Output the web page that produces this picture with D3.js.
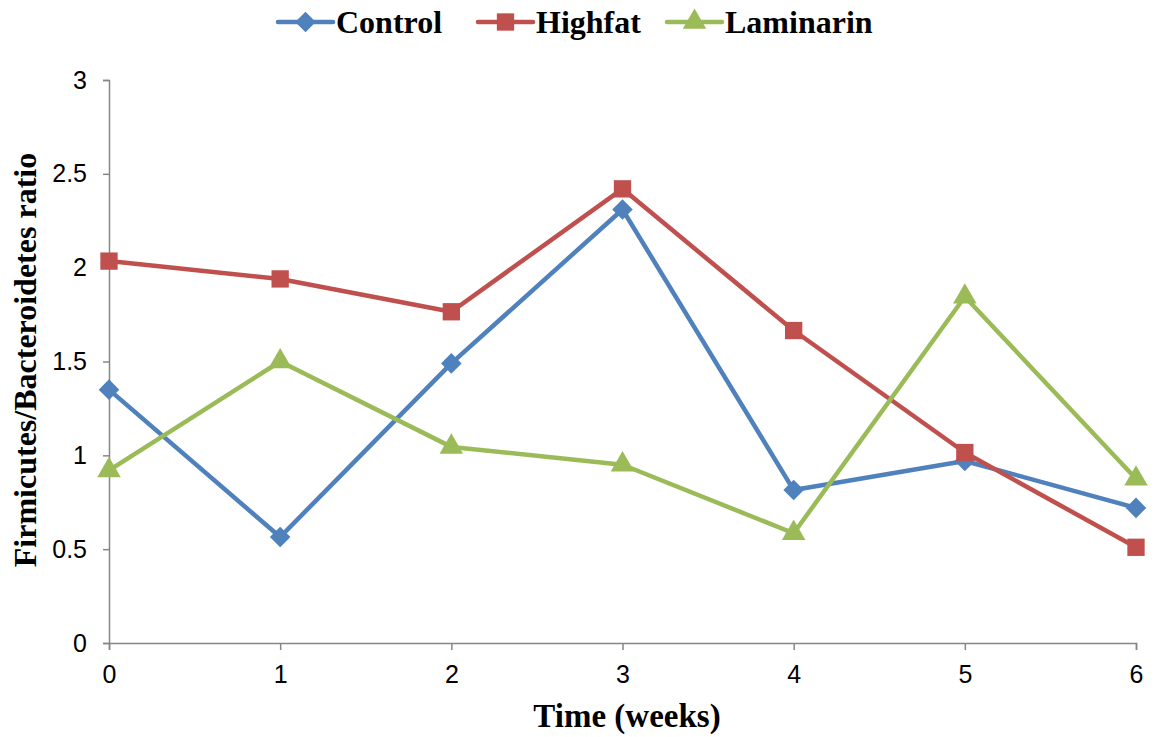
<!DOCTYPE html>
<html>
<head>
<meta charset="utf-8">
<script src="https://cdn.jsdelivr.net/npm/d3@7"></script>
<style>
  html, body { margin: 0; padding: 0; background: #fff; }
  svg { display: block; }
</style>
</head>
<body>
<svg id="chart" width="1160" height="737"></svg>
<script>
// Firmicutes/Bacteroidetes ratio over time, per diet group
const weeks = [0, 1, 2, 3, 4, 5, 6];
const control   = [1.35, 0.565, 1.49, 2.31, 0.815, 0.97, 0.72];
const highfat   = [2.035, 1.94, 1.765, 2.42, 1.665, 1.015, 0.51];
const laminarin = [0.92, 1.50, 1.045, 0.95, 0.585, 1.845, 0.875];
const seriesNames = ["Control", "Highfat", "Laminarin"];
const seriesColors = ["#4F81BD", "#C0504D", "#9BBB59"];
const yTicks = [0, 0.5, 1, 1.5, 2, 2.5, 3];

const series = [
  { name: seriesNames[0], values: control,   color: seriesColors[0], shape: d3.symbolDiamond2 },
  { name: seriesNames[1], values: highfat,   color: seriesColors[1], shape: d3.symbolSquare },
  { name: seriesNames[2], values: laminarin, color: seriesColors[2], shape: d3.symbolTriangle }
];

const svg = d3.select("#chart");
const margin = { left: 109, right: 24, top: 80, bottom: 94 };
const W = 1160, H = 737;

const x = d3.scaleLinear().domain([0, 6]).range([margin.left, W - margin.right]);
const y = d3.scaleLinear().domain([0, 3]).range([H - margin.bottom, margin.top]);

const axisColor = "#868686";
const sans = "Liberation Sans, Arial, sans-serif";
const serif = "Liberation Serif, Times New Roman, serif";

// y axis
const yAxis = svg.append("g")
  .attr("transform", `translate(${x(0)},0)`)
  .call(d3.axisLeft(y).tickValues(yTicks).tickSize(6).tickPadding(16)
    .tickFormat(d => String(d)));
yAxis.select(".domain").attr("stroke", axisColor).attr("stroke-width", 1.5);
yAxis.selectAll(".tick line").attr("stroke", axisColor).attr("stroke-width", 1.5);
yAxis.selectAll(".tick text")
  .attr("font-family", sans).attr("font-size", 25).attr("fill", "#000");

// x axis
const xAxis = svg.append("g")
  .attr("transform", `translate(0,${y(0)})`)
  .call(d3.axisBottom(x).tickValues(weeks).tickSize(7).tickPadding(15)
    .tickFormat(d3.format("d")));
xAxis.select(".domain").attr("stroke", axisColor).attr("stroke-width", 1.5);
xAxis.selectAll(".tick line").attr("stroke", axisColor).attr("stroke-width", 1.5);
xAxis.selectAll(".tick text")
  .attr("font-family", sans).attr("font-size", 25).attr("fill", "#000");

// axis titles
svg.append("text")
  .attr("x", 627).attr("y", 727)
  .attr("text-anchor", "middle")
  .attr("font-family", serif)
  .attr("font-weight", "bold").attr("font-size", 33)
  .text("Time (weeks)");

svg.append("text")
  .attr("transform", `translate(36,360) rotate(-90)`)
  .attr("text-anchor", "middle")
  .attr("font-family", serif)
  .attr("font-weight", "bold").attr("font-size", 32)
  .text("Firmicutes/Bacteroidetes ratio");

// lines and markers
const line = d3.line().x((d, i) => x(weeks[i])).y(d => y(d));
const markerSize = s => s === d3.symbolTriangle ? 240 : (s === d3.symbolSquare ? 300 : 270);

series.forEach(s => {
  svg.append("path")
    .datum(s.values)
    .attr("d", line)
    .attr("fill", "none")
    .attr("stroke", s.color)
    .attr("stroke-width", 4.5)
    .attr("stroke-linejoin", "round");
  svg.append("g").selectAll("path")
    .data(s.values)
    .join("path")
    .attr("transform", (d, i) => `translate(${x(weeks[i])},${y(d)})`)
    .attr("d", d3.symbol().type(s.shape).size(markerSize(s.shape)))
    .attr("fill", s.color);
});

// legend
const legendX = [278, 478, 667];
const legend = svg.append("g");
series.forEach((s, i) => {
  const g = legend.append("g").attr("transform", `translate(${legendX[i]},22)`);
  g.append("line").attr("x1", 0).attr("x2", 55).attr("y1", 0).attr("y2", 0)
    .attr("stroke", s.color).attr("stroke-width", 4.5).attr("stroke-linecap", "round");
  g.append("path").attr("transform", "translate(27.5,0)")
    .attr("d", d3.symbol().type(s.shape).size(markerSize(s.shape)))
    .attr("fill", s.color);
  g.append("text").attr("x", 58).attr("y", 11)
    .attr("font-family", serif)
    .attr("font-weight", "bold").attr("font-size", 32)
    .text(s.name);
});
</script>
</body>
</html>
